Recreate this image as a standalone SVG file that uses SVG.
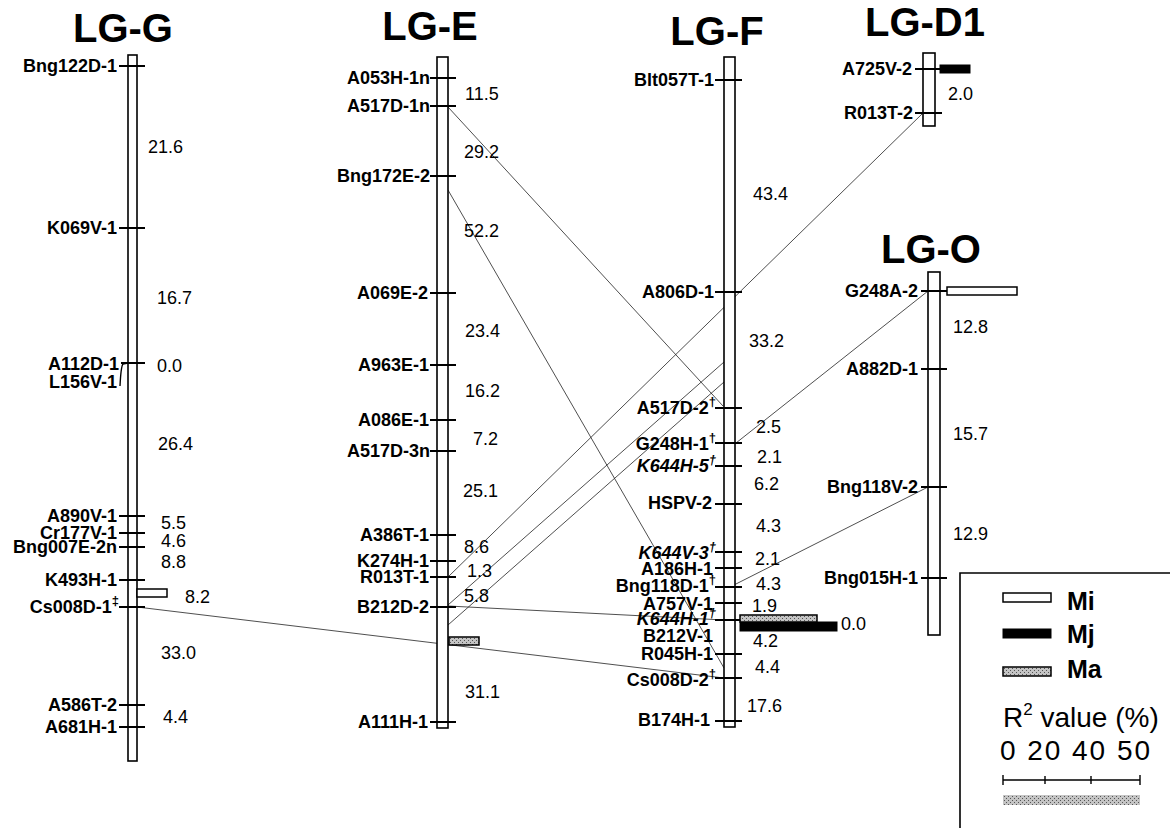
<svg xmlns="http://www.w3.org/2000/svg" width="1170" height="828" viewBox="0 0 1170 828">
<defs>
<pattern id="hatch" width="4" height="4" patternUnits="userSpaceOnUse">
<rect width="4" height="4" fill="#c4c4c4"/>
<rect width="1" height="1" fill="#555"/>
<rect x="2" y="2" width="1" height="1" fill="#555"/>
</pattern>
<style>
.bar{fill:#fff;stroke:#000;stroke-width:1.6}
.tk{stroke:#000;stroke-width:2}
.lbl{font-family:"Liberation Sans",Arial,sans-serif;font-weight:bold;font-size:18px;text-anchor:end;fill:#000}
.it{font-style:italic}
.num{font-family:"Liberation Sans",Arial,sans-serif;font-size:18px;fill:#000}
.ttl{font-family:"Liberation Sans",Arial,sans-serif;font-weight:bold;font-size:40px;text-anchor:middle;fill:#000}
.mi{fill:#fff;stroke:#000;stroke-width:1.5}
.mj{fill:#000;stroke:#000;stroke-width:1}
.ma{fill:url(#hatch);stroke:#000;stroke-width:1.5}
.leg{font-family:"Liberation Sans",Arial,sans-serif;fill:#000}
.conn line,.conn path{stroke:#222;stroke-width:0.8;fill:none}
</style>
</defs>
<rect width="1170" height="828" fill="#fff"/>

<g class="conn" id="connectors">
<line x1="448" y1="107" x2="723" y2="406"/>
<line x1="448" y1="190" x2="724" y2="668"/>
<line x1="448" y1="577" x2="923" y2="113"/>
<line x1="448" y1="605" x2="724" y2="362"/>
<line x1="448" y1="625" x2="724" y2="382"/>
<line x1="448" y1="606" x2="724" y2="620"/>
<line x1="137" y1="607" x2="724" y2="678"/>
<line x1="736" y1="443" x2="928" y2="291"/>
<line x1="728" y1="588" x2="928" y2="487"/>
</g>

<g id="LG-G">
<text class="ttl" x="123" y="42">LG-G</text>
<rect class="bar" x="128" y="55" width="9" height="706"/>
<path d="M119 66H145M119 228H145M121 363H145M119 516H145M119 533H145M119 547H145M119 580H145M119 607H145M119 705H145M119 727H145" class="tk"/>
<path d="M128 363 L123 364 Q121 366 120 386" fill="none" stroke="#000" stroke-width="1.4"/>
<text class="lbl" x="117" y="72">Bng122D-1</text>
<text class="lbl" x="117" y="234">K069V-1</text>
<text class="lbl" x="119" y="370">A112D-1</text>
<text class="lbl" x="117" y="388">L156V-1</text>
<text class="lbl" x="117" y="522">A890V-1</text>
<text class="lbl" x="117" y="539">Cr177V-1</text>
<text class="lbl" x="117" y="553">Bng007E-2n</text>
<text class="lbl" x="117" y="586">K493H-1</text>
<text class="lbl" x="119" y="613">Cs008D-1<tspan font-size="13" dy="-8">‡</tspan></text>
<text class="lbl" x="117" y="711">A586T-2</text>
<text class="lbl" x="117" y="733">A681H-1</text>
<rect class="mi" x="137" y="589" width="30" height="8"/>
<text class="num" x="148" y="153">21.6</text>
<text class="num" x="157" y="304">16.7</text>
<text class="num" x="157" y="372">0.0</text>
<text class="num" x="158" y="450">26.4</text>
<text class="num" x="161" y="529">5.5</text>
<text class="num" x="161" y="547">4.6</text>
<text class="num" x="161" y="568">8.8</text>
<text class="num" x="185" y="603">8.2</text>
<text class="num" x="161" y="659">33.0</text>
<text class="num" x="163" y="723">4.4</text>
</g>

<g id="LG-E">
<text class="ttl" x="430" y="40">LG-E</text>
<rect class="bar" x="437" y="57" width="11" height="671"/>
<path d="M430 78H456M430 106H456M430 176H456M430 293H456M430 365H456M430 420H456M430 451H456M430 535H456M430 561H456M430 577H456M430 607H456M430 722H456" class="tk"/>
<text class="lbl" x="430" y="84">A053H-1n</text>
<text class="lbl" x="430" y="112">A517D-1n</text>
<text class="lbl" x="430" y="182">Bng172E-2</text>
<text class="lbl" x="428" y="299">A069E-2</text>
<text class="lbl" x="429" y="371">A963E-1</text>
<text class="lbl" x="429" y="426">A086E-1</text>
<text class="lbl" x="430" y="457">A517D-3n</text>
<text class="lbl" x="429" y="541">A386T-1</text>
<text class="lbl" x="429" y="567">K274H-1</text>
<text class="lbl" x="429" y="583">R013T-1</text>
<text class="lbl" x="429" y="613">B212D-2</text>
<text class="lbl" x="428" y="728">A111H-1</text>
<rect class="ma" x="449" y="637" width="30" height="8"/>
<text class="num" x="465" y="100">11.5</text>
<text class="num" x="464" y="158">29.2</text>
<text class="num" x="464" y="237">52.2</text>
<text class="num" x="465" y="337">23.4</text>
<text class="num" x="465" y="397">16.2</text>
<text class="num" x="473" y="445">7.2</text>
<text class="num" x="463" y="497">25.1</text>
<text class="num" x="464" y="553">8.6</text>
<text class="num" x="467" y="577">1.3</text>
<text class="num" x="464" y="602">5.8</text>
<text class="num" x="465" y="698">31.1</text>
</g>

<g id="LG-F">
<text class="ttl" x="717" y="45">LG-F</text>
<rect class="bar" x="724" y="57" width="11" height="670"/>
<path d="M715 80H742M715 292H742M715 408H742M715 443H742M715 466H742M715 504H742M715 552H742M715 568H742M715 587H742M715 603H742M715 620H742M715 654H742M715 678H742M715 721H742" class="tk"/>
<text class="lbl" x="714" y="86">Blt057T-1</text>
<text class="lbl" x="714" y="298">A806D-1</text>
<text class="lbl" x="716" y="414">A517D-2<tspan font-size="13" dy="-8">†</tspan></text>
<text class="lbl" x="716" y="450">G248H-1<tspan font-size="13" dy="-8">†</tspan></text>
<text class="lbl it" x="716" y="472">K644H-5<tspan font-size="13" dy="-8">†</tspan></text>
<text class="lbl" x="712" y="509">HSPV-2</text>
<text class="lbl it" x="716" y="559">K644V-3<tspan font-size="13" dy="-8">†</tspan></text>
<text class="lbl" x="713" y="575">A186H-1</text>
<text class="lbl" x="716" y="592">Bng118D-1<tspan font-size="13" dy="-8">†</tspan></text>
<text class="lbl" x="713" y="610">A757V-1</text>
<text class="lbl it" x="716" y="625">K644H-1<tspan font-size="13" dy="-8">†</tspan></text>
<text class="lbl" x="713" y="642">B212V-1</text>
<text class="lbl" x="713" y="660">R045H-1</text>
<text class="lbl" x="716" y="686">Cs008D-2<tspan font-size="13" dy="-8">†</tspan></text>
<text class="lbl" x="710" y="726">B174H-1</text>
<rect class="mj" x="740" y="622" width="97" height="9"/>
<rect class="ma" x="740" y="615" width="77" height="7"/>
<text class="num" x="753" y="200">43.4</text>
<text class="num" x="749" y="347">33.2</text>
<text class="num" x="756" y="433">2.5</text>
<text class="num" x="757" y="463">2.1</text>
<text class="num" x="754" y="490">6.2</text>
<text class="num" x="756" y="532">4.3</text>
<text class="num" x="755" y="565">2.1</text>
<text class="num" x="756" y="590">4.3</text>
<text class="num" x="752" y="612">1.9</text>
<text class="num" x="841" y="630">0.0</text>
<text class="num" x="753" y="647">4.2</text>
<text class="num" x="755" y="673">4.4</text>
<text class="num" x="747" y="712">17.6</text>
</g>

<g id="LG-D1">
<text class="ttl" x="925" y="36">LG-D1</text>
<rect class="bar" x="923" y="53" width="12" height="73"/>
<path d="M915 69H942M915 113H942" class="tk"/>
<text class="lbl" x="912" y="75">A725V-2</text>
<text class="lbl" x="913" y="119">R013T-2</text>
<rect class="mj" x="940" y="65" width="30" height="8"/>
<text class="num" x="948" y="100">2.0</text>
</g>

<g id="LG-O">
<text class="ttl" x="931" y="263">LG-O</text>
<rect class="bar" x="928" y="272" width="12" height="363"/>
<path d="M921 291H947M921 369H947M921 487H947M921 578H947" class="tk"/>
<text class="lbl" x="918" y="297">G248A-2</text>
<text class="lbl" x="918" y="375">A882D-1</text>
<text class="lbl" x="918" y="493">Bng118V-2</text>
<text class="lbl" x="918" y="584">Bng015H-1</text>
<rect class="mi" x="947" y="287" width="70" height="8"/>
<text class="num" x="953" y="333">12.8</text>
<text class="num" x="953" y="440">15.7</text>
<text class="num" x="953" y="540">12.9</text>
</g>

<g id="legend">
<path d="M960 828V573H1170" fill="none" stroke="#000" stroke-width="1.6"/>
<rect class="mi" x="1003" y="593" width="48" height="9"/>
<text class="leg" x="1067" y="610" font-size="25" font-weight="bold">Mi</text>
<rect class="mj" x="1003" y="629" width="48" height="9"/>
<text class="leg" x="1067" y="643" font-size="25" font-weight="bold">Mj</text>
<rect class="ma" x="1003" y="667" width="48" height="9"/>
<text class="leg" x="1067" y="678" font-size="25" font-weight="bold">Ma</text>
<text class="leg" x="1003" y="727" font-size="28">R<tspan font-size="17" dy="-12">2</tspan><tspan dy="12"> value (%)</tspan></text>
<text class="leg" x="1000" y="760" font-size="28" textLength="150">0 20 40 50</text>
<path d="M1003 780H1140M1003 775V785M1045 776V784M1091 776V784M1140 775V785" stroke="#000" stroke-width="1.4"/>
<rect x="1003" y="795" width="137" height="10" fill="url(#hatch)"/>
</g>
</svg>
